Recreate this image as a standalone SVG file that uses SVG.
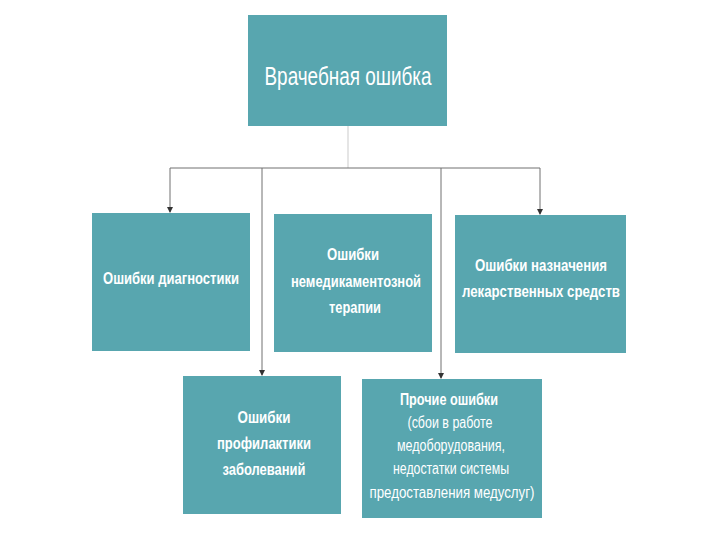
<svg xmlns="http://www.w3.org/2000/svg" width="720" height="540" viewBox="0 0 720 540">
<style>
.box{fill:#58a6af}
.t{fill:#ffffff;font-family:"Liberation Sans",Arial,sans-serif;text-anchor:middle}
.b{font-weight:bold;font-size:17px}
.r{font-size:16px}
.ln{stroke:#707070;stroke-width:1;fill:none}
</style>
<defs>
<marker id="ah" markerWidth="6" markerHeight="6" refX="5" refY="3" orient="auto" markerUnits="userSpaceOnUse">
<path d="M0,0 L6,3 L0,6 z" fill="#333"/>
</marker>
</defs>
<rect width="720" height="540" fill="#ffffff"/>
<g id="connectors">
<line x1="348" y1="126" x2="348" y2="168" stroke="#dddddd" stroke-width="1.5"/>
<line class="ln" x1="170" y1="168" x2="540" y2="168"/>
<line class="ln" x1="170" y1="168" x2="170" y2="212" marker-end="url(#ah)"/>
<line class="ln" x1="540" y1="168" x2="540" y2="214" marker-end="url(#ah)"/>
<line class="ln" x1="262" y1="168" x2="262" y2="375" marker-end="url(#ah)"/>
<line class="ln" x1="441" y1="168" x2="441" y2="378" marker-end="url(#ah)"/>
</g>
<g id="root">
<rect class="box" x="248" y="15" width="199" height="111"/>
<text class="t" x="348" y="85" font-size="25" textLength="167" lengthAdjust="spacingAndGlyphs">Врачебная ошибка</text>
</g>
<g id="diag">
<rect class="box" x="92" y="213" width="158" height="138"/>
<text class="t b" x="171" y="284" textLength="136" lengthAdjust="spacingAndGlyphs">Ошибки диагностики</text>
</g>
<g id="nonmed">
<rect class="box" x="274" y="214" width="158" height="138"/>
<text class="t b" x="353" y="260" textLength="52" lengthAdjust="spacingAndGlyphs">Ошибки</text>
<text class="t b" x="356" y="287" textLength="130" lengthAdjust="spacingAndGlyphs">немедикаментозной</text>
<text class="t b" x="355" y="313" textLength="52" lengthAdjust="spacingAndGlyphs">терапии</text>
</g>
<g id="drugs">
<rect class="box" x="455" y="215" width="171" height="138"/>
<text class="t b" x="541" y="271" textLength="132" lengthAdjust="spacingAndGlyphs">Ошибки назначения</text>
<text class="t b" x="541" y="297" textLength="158" lengthAdjust="spacingAndGlyphs">лекарственных средств</text>
</g>
<g id="prevent">
<rect class="box" x="183" y="376" width="158" height="138"/>
<text class="t b" x="264" y="423" textLength="53" lengthAdjust="spacingAndGlyphs">Ошибки</text>
<text class="t b" x="264" y="449" textLength="94" lengthAdjust="spacingAndGlyphs">профилактики</text>
<text class="t b" x="264" y="475" textLength="83" lengthAdjust="spacingAndGlyphs">заболеваний</text>
</g>
<g id="other">
<rect class="box" x="362" y="379" width="180" height="139"/>
<text class="t b" x="449" y="405" textLength="98" lengthAdjust="spacingAndGlyphs">Прочие ошибки</text>
<text class="t r" x="450" y="428" textLength="85" lengthAdjust="spacingAndGlyphs">(сбои в работе</text>
<text class="t r" x="451" y="451" textLength="108" lengthAdjust="spacingAndGlyphs">медоборудования,</text>
<text class="t r" x="451" y="474" textLength="116" lengthAdjust="spacingAndGlyphs">недостатки системы</text>
<text class="t r" x="452" y="498" textLength="165" lengthAdjust="spacingAndGlyphs">предоставления медуслуг)</text>
</g>
</svg>
